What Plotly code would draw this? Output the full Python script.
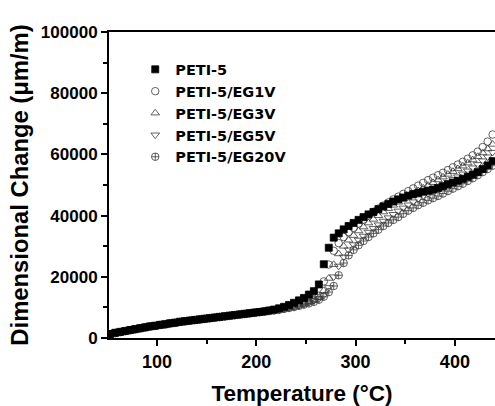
import plotly.graph_objects as go

temperature = [53, 58, 63, 68, 73, 78, 83, 88, 93, 98, 103, 108, 113, 118, 123, 128, 133, 138, 143, 148,
               153, 158, 163, 168, 173, 178, 183, 188, 193, 198, 203, 208, 213, 218, 223, 228, 233, 238, 243, 248,
               253, 258, 263, 268, 273, 278, 283, 288, 293, 298, 303, 308, 313, 318, 323, 328, 333, 338, 343, 348,
               353, 358, 363, 368, 373, 378, 383, 388, 393, 398, 403, 408, 413, 418, 423, 428, 433, 438]

peti5 = [1300, 1700, 2000, 2300, 2600, 2900, 3200, 3500, 3800, 4000, 4300, 4500, 4800, 5000, 5300, 5500, 5700, 5900, 6100, 6300,
         6500, 6700, 6900, 7100, 7300, 7500, 7700, 7900, 8100, 8300, 8500, 8700, 9000, 9300, 9700, 10200, 10800, 11500, 12300, 13100,
         14200, 15300, 17500, 24100, 29500, 32800, 34200, 35500, 36600, 37600, 38600, 39500, 40400, 41200, 42100, 43000, 43800, 44600, 45300, 45900,
         46500, 47000, 47400, 47800, 48100, 48500, 49000, 49600, 50200, 50800, 51400, 52000, 52700, 53400, 54200, 55200, 56400, 57800]

eg1v = [1300, 1700, 2000, 2300, 2600, 2900, 3200, 3500, 3800, 4000, 4300, 4500, 4800, 5000, 5300, 5500, 5700, 5900, 6100, 6300,
        6500, 6700, 6900, 7100, 7300, 7500, 7700, 7900, 8100, 8300, 8500, 8700, 8900, 9100, 9400, 9700, 10000, 10400, 10800, 11300,
        11900, 12600, 13800, 18500, 24000, 28500, 31000, 33000, 34600, 36000, 37400, 38700, 40000, 41200, 42300, 43300, 44300, 45300, 46200, 47100,
        48000, 48900, 49800, 50700, 51600, 52400, 53200, 54000, 54900, 55800, 56700, 57600, 58600, 59700, 60900, 62400, 64200, 66500]

eg3v = [1300, 1700, 2000, 2300, 2600, 2900, 3200, 3500, 3800, 4000, 4300, 4500, 4800, 5000, 5300, 5500, 5700, 5900, 6100, 6300,
        6500, 6700, 6900, 7100, 7300, 7500, 7700, 7900, 8100, 8300, 8500, 8700, 8900, 9100, 9400, 9700, 10000, 10400, 10800, 11300,
        11800, 12400, 13200, 15500, 19500, 24000, 27500, 30000, 32000, 33500, 35000, 36300, 37600, 38800, 40000, 41200, 42300, 43400, 44400, 45400,
        46300, 47200, 48100, 49000, 49900, 50800, 51700, 52600, 53500, 54400, 55300, 56200, 57200, 58200, 59300, 60500, 61800, 63300]

eg5v = [1300, 1700, 2000, 2300, 2600, 2900, 3200, 3500, 3800, 4000, 4300, 4500, 4800, 5000, 5300, 5500, 5700, 5900, 6100, 6300,
        6500, 6700, 6900, 7100, 7300, 7500, 7700, 7900, 8100, 8300, 8500, 8700, 8900, 9100, 9400, 9700, 10000, 10400, 10800, 11200,
        11700, 12200, 12800, 14000, 16500, 20000, 23500, 26500, 28800, 30500, 32000, 33300, 34600, 35800, 37000, 38200, 39300, 40400, 41500, 42500,
        43500, 44500, 45500, 46400, 47300, 48200, 49100, 50000, 50900, 51800, 52700, 53600, 54600, 55600, 56700, 57900, 59200, 60700]

eg20v = [1200, 1600, 1900, 2200, 2500, 2800, 3100, 3400, 3700, 3900, 4200, 4400, 4700, 4900, 5200, 5400, 5600, 5800, 6000, 6200,
         6400, 6600, 6800, 7000, 7200, 7400, 7600, 7800, 8000, 8200, 8400, 8600, 8800, 9000, 9200, 9500, 9800, 10100, 10500, 10900,
         11300, 11800, 12500, 13500, 15000, 17000, 20500, 24500, 27000, 28800, 30300, 31700, 33000, 34200, 35400, 36600, 37600, 38600, 39500, 40600,
         41600, 42500, 43400, 44200, 45000, 45700, 46400, 47200, 48000, 48800, 49600, 50400, 51300, 52200, 53200, 54200, 55200, 56300]

series_names = ["PETI-5", "PETI-5/EG1V", "PETI-5/EG3V", "PETI-5/EG5V", "PETI-5/EG20V"]
series_values = [peti5, eg1v, eg3v, eg5v, eg20v]
symbols = ["square", "circle-open", "triangle-up-open", "triangle-down-open", "circle-cross-open"]

FONT = "Liberation Sans, Arial, sans-serif"
LEGEND_FONT = "DejaVu Sans, Liberation Sans, sans-serif"

fig = go.Figure()
# draw in reverse so PETI-5 squares are on top
for name, vals, sym in reversed(list(zip(series_names, series_values, symbols))):
    filled = sym == "square"
    fig.add_trace(go.Scatter(
        x=temperature, y=vals, mode="markers", name=name,
        marker=dict(symbol=sym, size=7 if filled else 7.5, color="black" if filled else "#3a3a3a",
                    line=dict(color="black" if filled else "#3a3a3a", width=0.8)),
    ))

fig.update_layout(
    width=495, height=406,
    margin=dict(l=109, r=0, t=32, b=68),
    paper_bgcolor="white", plot_bgcolor="white",
    font=dict(family=FONT, size=15, color="black", weight="bold"),
    showlegend=True,
    legend=dict(x=0.068, y=0.93, xanchor="left", yanchor="top", traceorder="reversed",
                bgcolor="rgba(0,0,0,0)", font=dict(size=14.5, family=LEGEND_FONT, weight="bold"),
                itemsizing="trace", tracegroupgap=0),
    xaxis=dict(range=[51.7, 440.4], tickvals=[100, 200, 300, 400], automargin=False,
               showgrid=False, zeroline=False, showline=True, linecolor="black", linewidth=2,
               mirror=True, ticks="outside", ticklen=6, tickwidth=2, tickcolor="black",
               minor=dict(tickvals=[50, 150, 250, 350, 450], ticks="outside", ticklen=4, tickwidth=1.5, tickcolor="black"),
               tickfont=dict(size=18, family=FONT, weight="bold"),
               title=dict(text="Temperature (°C)", font=dict(size=22.5, family=FONT, weight="bold"), standoff=22)),
    yaxis=dict(range=[0, 100000], tickvals=[0, 20000, 40000, 60000, 80000, 100000], automargin=False,
               ticktext=["0", "20000", "40000", "60000", "80000", "100000"],
               showgrid=False, zeroline=False, showline=True, linecolor="black", linewidth=2,
               ticks="outside", ticklen=6, tickwidth=2, tickcolor="black",
               minor=dict(tickvals=[10000, 30000, 50000, 70000, 90000], ticks="outside", ticklen=4, tickwidth=1.5, tickcolor="black"),
               tickfont=dict(size=17, family=FONT, weight="bold"),
               title=dict(text="Dimensional Change (μm/m)", font=dict(size=23.8, family=FONT, weight="bold"), standoff=6)),
)

# remove the default 8px page margin so the 495x406 figure fills the window exactly
fig.write_html("out.html", config={"displayModeBar": False},
               post_script="document.body.style.margin='0';document.body.style.overflow='hidden';")
